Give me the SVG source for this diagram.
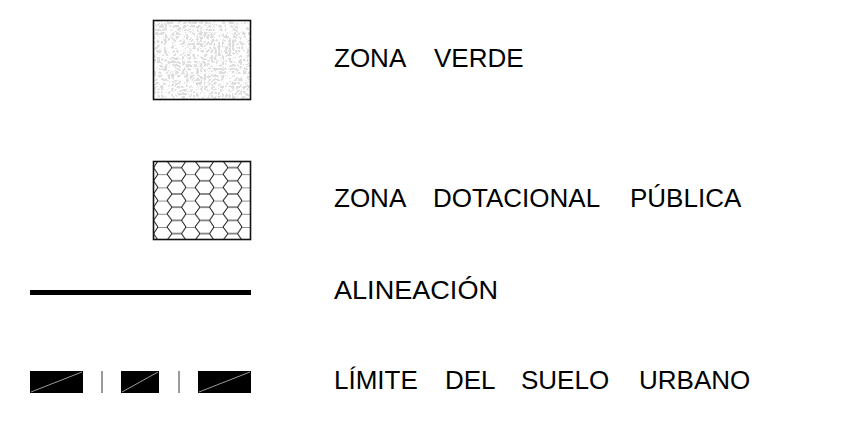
<svg xmlns="http://www.w3.org/2000/svg" width="852" height="428" viewBox="0 0 852 428">
<style>
text{font-family:"Liberation Sans",Arial,sans-serif;font-size:26px;fill:#000}
.frame{fill:none;stroke:#111;stroke-width:1.6}
.hexline{fill:none;stroke:#111;stroke-width:1}
.blk{fill:#000}
.diag{stroke:#999;stroke-width:1}
.bar{stroke:#7a7a7a;stroke-width:1.5}
</style>
<defs>
<filter id="speck" x="0" y="0" width="100%" height="100%" filterUnits="objectBoundingBox">
<feTurbulence type="turbulence" baseFrequency="0.28" numOctaves="2" seed="11" result="n"/>
<feColorMatrix in="n" type="matrix" values="0 0 0 0 0.72  0 0 0 0 0.72  0 0 0 0 0.72  7 0 0 0 -1.6"/>
</filter>
<pattern id="hex" patternUnits="userSpaceOnUse" x="149" y="161" width="28" height="13.2">
<path class="hexline" d="M0,6.6 H4.5 L9,0 H18 L23,6.6 H28 M4.5,6.6 L9,13.2 M23,6.6 L18,13.2"/>
</pattern>
</defs>
<g id="zona-verde">
<rect x="153" y="20" width="98" height="80" fill="#fff"/>
<rect x="153" y="20" width="98" height="80" fill="#fff" filter="url(#speck)"/>
<rect class="frame" x="153.5" y="20.5" width="97" height="79"/>
<text y="67"><tspan x="334">ZONA</tspan><tspan x="434">VERDE</tspan></text>
</g>
<g id="zona-dotacional">
<rect x="153" y="161" width="98" height="79" fill="url(#hex)"/>
<rect class="frame" x="153.5" y="161.5" width="97" height="78"/>
<text y="207"><tspan x="334">ZONA</tspan><tspan x="433">DOTACIONAL</tspan><tspan x="630">PÚBLICA</tspan></text>
</g>
<g id="alineacion">
<rect class="blk" x="30" y="290" width="221" height="5"/>
<text x="334" y="299" textLength="164" lengthAdjust="spacingAndGlyphs">ALINEACIÓN</text>
</g>
<g id="limite">
<rect class="blk" x="30" y="371" width="53" height="22"/>
<line class="diag" x1="31" y1="392" x2="82" y2="372"/>
<line class="bar" x1="102" y1="371" x2="102" y2="393"/>
<rect class="blk" x="121" y="371" width="38" height="22"/>
<line class="diag" x1="122" y1="392" x2="158" y2="372"/>
<line class="bar" x1="179" y1="371" x2="179" y2="393"/>
<rect class="blk" x="198" y="371" width="53" height="22"/>
<line class="diag" x1="199" y1="392" x2="250" y2="372"/>
<text y="389"><tspan x="334">LÍMITE</tspan><tspan x="445">DEL</tspan><tspan x="521">SUELO</tspan><tspan x="639">URBANO</tspan></text>
</g>
<g id="connectors"/>
</svg>
